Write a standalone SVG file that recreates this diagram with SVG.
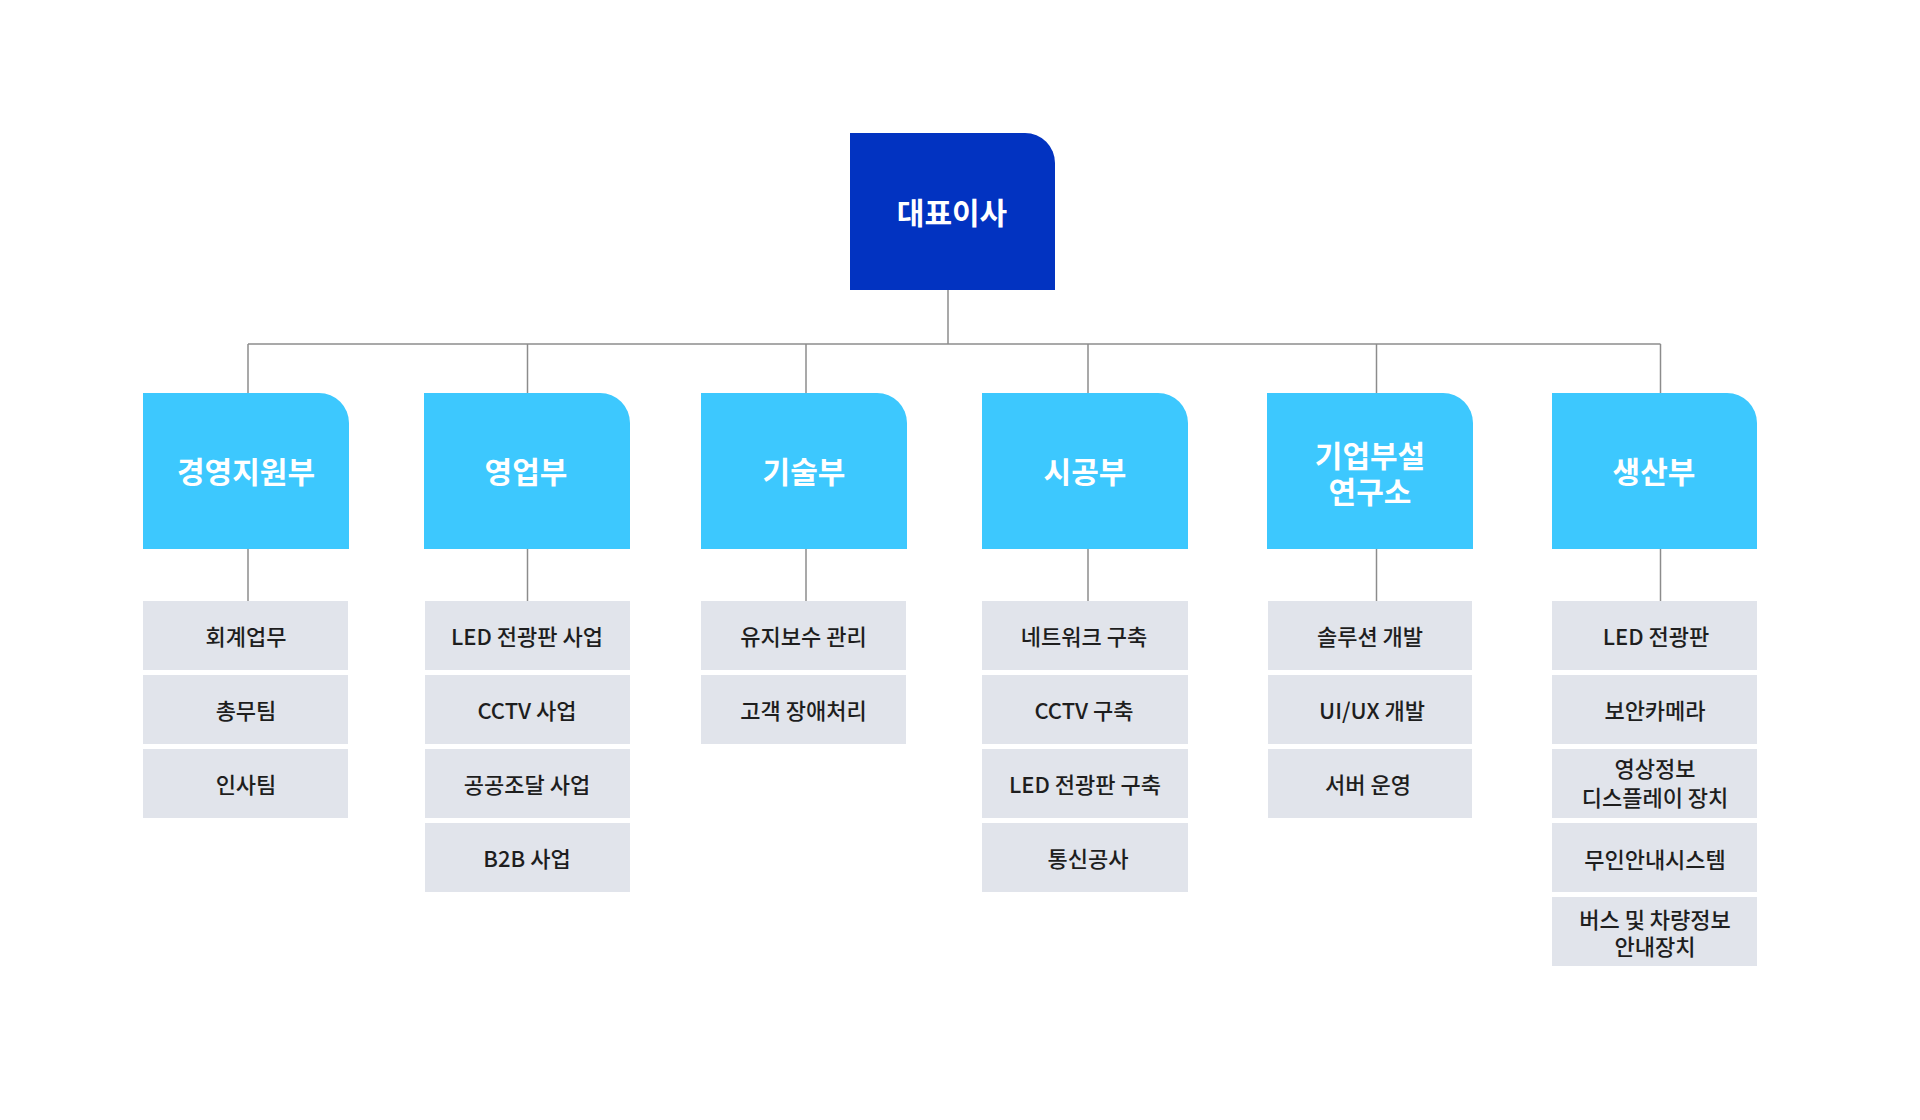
<svg xmlns="http://www.w3.org/2000/svg" width="1920" height="1120" viewBox="0 0 1920 1120">
  <style>
    text { font-family: "Noto Sans CJK KR", "Noto Sans", sans-serif; text-anchor: middle; dominant-baseline: central; }
    .ceo { fill: #0233C1; }
    .dept { fill: #3DC8FE; }
    .item { fill: #E1E4EB; }
    .big { font-size: 30px; font-weight: 700; fill: #FFFFFF; }
    .lbl { font-size: 22px; font-weight: 500; fill: #1E1E1E; }
    .conn { stroke: #8C8C8C; stroke-width: 1.5; fill: none; }
  </style>
  <rect width="1920" height="1120" fill="#FFFFFF"/>

  <g id="connectors" class="conn">
    <line x1="948" y1="290" x2="948" y2="344"/>
    <line x1="248" y1="344" x2="1660.5" y2="344"/>
    <line x1="248" y1="344" x2="248" y2="393"/>
    <line x1="527.5" y1="344" x2="527.5" y2="393"/>
    <line x1="806" y1="344" x2="806" y2="393"/>
    <line x1="1088" y1="344" x2="1088" y2="393"/>
    <line x1="1376.5" y1="344" x2="1376.5" y2="393"/>
    <line x1="1660.5" y1="344" x2="1660.5" y2="393"/>
    <line x1="248" y1="549" x2="248" y2="601"/>
    <line x1="527.5" y1="549" x2="527.5" y2="601"/>
    <line x1="806" y1="549" x2="806" y2="601"/>
    <line x1="1088" y1="549" x2="1088" y2="601"/>
    <line x1="1376.5" y1="549" x2="1376.5" y2="601"/>
    <line x1="1660.5" y1="549" x2="1660.5" y2="601"/>
  </g>

  <g id="ceo">
    <path class="ceo" d="M850,133 H1025 A30,30 0 0 1 1055,163 V290 H850 Z"/>
    <text class="big" x="952" y="211">대표이사</text>
  </g>

  <g id="dept-management">
    <path class="dept" d="M143,393 H319 A30,30 0 0 1 349,423 V549 H143 Z"/>
    <text class="big" x="246" y="469.5">경영지원부</text>
  </g>
  <g id="dept-sales">
    <path class="dept" d="M424,393 H600 A30,30 0 0 1 630,423 V549 H424 Z"/>
    <text class="big" x="526" y="469.5">영업부</text>
  </g>
  <g id="dept-tech">
    <path class="dept" d="M701,393 H877 A30,30 0 0 1 907,423 V549 H701 Z"/>
    <text class="big" x="804" y="469.5">기술부</text>
  </g>
  <g id="dept-construction">
    <path class="dept" d="M982,393 H1158 A30,30 0 0 1 1188,423 V549 H982 Z"/>
    <text class="big" x="1085" y="469.5">시공부</text>
  </g>
  <g id="dept-lab">
    <path class="dept" d="M1267,393 H1443 A30,30 0 0 1 1473,423 V549 H1267 Z"/>
    <text class="big" x="1370" y="454">기업부설</text>
    <text class="big" x="1370" y="490">연구소</text>
  </g>
  <g id="dept-production">
    <path class="dept" d="M1552,393 H1727 A30,30 0 0 1 1757,423 V549 H1552 Z"/>
    <text class="big" x="1654" y="469.5">생산부</text>
  </g>

  <g id="items-management">
    <rect class="item" x="143" y="601" width="205" height="69"/>
    <text class="lbl" x="246" y="634.5">회계업무</text>
    <rect class="item" x="143" y="675" width="205" height="69"/>
    <text class="lbl" x="246" y="708.5">총무팀</text>
    <rect class="item" x="143" y="749" width="205" height="69"/>
    <text class="lbl" x="246" y="782.5">인사팀</text>
  </g>

  <g id="items-sales">
    <rect class="item" x="425" y="601" width="205" height="69"/>
    <text class="lbl" x="527" y="634.5">LED 전광판 사업</text>
    <rect class="item" x="425" y="675" width="205" height="69"/>
    <text class="lbl" x="527" y="708.5">CCTV 사업</text>
    <rect class="item" x="425" y="749" width="205" height="69"/>
    <text class="lbl" x="527" y="782.5">공공조달 사업</text>
    <rect class="item" x="425" y="823" width="205" height="69"/>
    <text class="lbl" x="527" y="856.5">B2B 사업</text>
  </g>

  <g id="items-tech">
    <rect class="item" x="701" y="601" width="205" height="69"/>
    <text class="lbl" x="803.5" y="634.5">유지보수 관리</text>
    <rect class="item" x="701" y="675" width="205" height="69"/>
    <text class="lbl" x="803.5" y="708.5">고객 장애처리</text>
  </g>

  <g id="items-construction">
    <rect class="item" x="982" y="601" width="206" height="69"/>
    <text class="lbl" x="1084" y="634.5">네트워크 구축</text>
    <rect class="item" x="982" y="675" width="206" height="69"/>
    <text class="lbl" x="1084" y="708.5">CCTV 구축</text>
    <rect class="item" x="982" y="749" width="206" height="69"/>
    <text class="lbl" x="1085" y="782.5">LED 전광판 구축</text>
    <rect class="item" x="982" y="823" width="206" height="69"/>
    <text class="lbl" x="1088" y="856.5">통신공사</text>
  </g>

  <g id="items-lab">
    <rect class="item" x="1268" y="601" width="204" height="69"/>
    <text class="lbl" x="1370" y="634.5">솔루션 개발</text>
    <rect class="item" x="1268" y="675" width="204" height="69"/>
    <text class="lbl" x="1372" y="708.5">UI/UX 개발</text>
    <rect class="item" x="1268" y="749" width="204" height="69"/>
    <text class="lbl" x="1368" y="782.5">서버 운영</text>
  </g>

  <g id="items-production">
    <rect class="item" x="1552" y="601" width="205" height="69"/>
    <text class="lbl" x="1656" y="634.5">LED 전광판</text>
    <rect class="item" x="1552" y="675" width="205" height="69"/>
    <text class="lbl" x="1655" y="708.5">보안카메라</text>
    <rect class="item" x="1552" y="749" width="205" height="69"/>
    <text class="lbl" x="1655" y="767">영상정보</text>
    <text class="lbl" x="1655" y="796">디스플레이 장치</text>
    <rect class="item" x="1552" y="823" width="205" height="69"/>
    <text class="lbl" x="1655" y="858">무인안내시스템</text>
    <rect class="item" x="1552" y="897" width="205" height="69"/>
    <text class="lbl" x="1655" y="918">버스 및 차량정보</text>
    <text class="lbl" x="1655" y="945">안내장치</text>
  </g>
</svg>
